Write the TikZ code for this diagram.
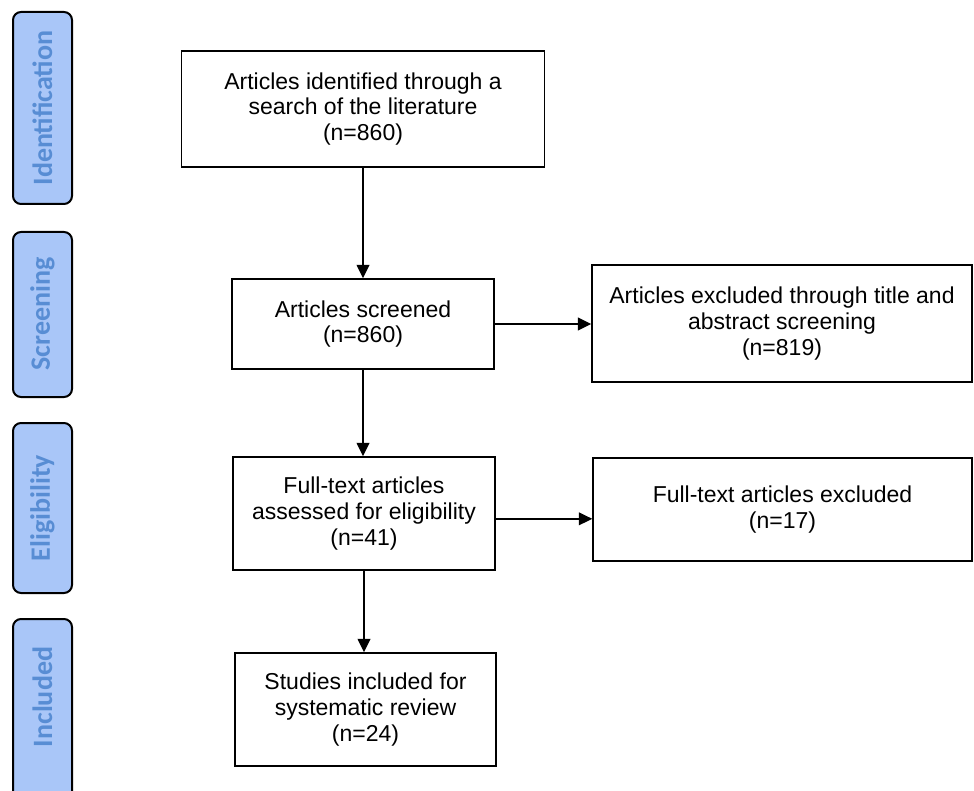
\documentclass[tikz,border=0pt]{standalone}
\usepackage{fontspec}
\setmainfont{Liberation Sans}
\newfontfamily\tabfont{Carlito}
\usetikzlibrary{arrows.meta}
\definecolor{tabfill}{RGB}{169,198,248}
\definecolor{tabtext}{RGB}{88,141,212}
\tikzstyle{cbox}   = [draw=black, line width=1.1pt, align=center, inner sep=0pt, font=\fontsize{17.25pt}{19.3pt}\selectfont]
\tikzstyle{ctab}   = [fill=tabfill, draw=black, line width=1.5pt, rounded corners=6pt]
\tikzstyle{clabel} = [rotate=90, text=tabtext, font=\tabfont\bfseries\fontsize{21pt}{24pt}\selectfont]
\tikzstyle{carrow} = [-{Triangle[length=10pt,width=9.5pt]}, line width=1.1pt]

\begin{document}
\begin{tikzpicture}[x=0.75pt, y=-0.75pt]
  \useasboundingbox (0,0) rectangle (974,791);
  % stage tabs on the left
  \foreach \ya/\yb/\ym/\stage in {12/204/108/Identification, 232/397/314/Screening, 423/593/508/Eligibility, 619/820/697/Included}{
    \draw[ctab] (13,\ya) rectangle (72,\yb);
    \node[clabel] (tab-\stage) at (42.5,\ym) {\stage};
  }
  \node[cbox, minimum width=272.25pt, minimum height=87pt]   (found)    at (363,109)     {Articles identified through a\\search of the literature\\(n=860)};
  \node[cbox, minimum width=196.5pt,  minimum height=67.5pt] (screened) at (363,324)     {Articles screened\\(n=860)};
  \node[cbox, minimum width=285pt,    minimum height=87.75pt](excl1)    at (782,323.5)   {Articles excluded through title and\\abstract screening\\(n=819)};
  \node[cbox, minimum width=196.5pt,  minimum height=84.75pt](fulltext) at (364,513.5)   {Full-text articles\\assessed for eligibility\\(n=41)};
  \node[cbox, minimum width=284.25pt, minimum height=77.25pt](excl2)    at (782.5,509.5) {Full-text articles excluded\\(n=17)};
  \node[cbox, minimum width=195.75pt, minimum height=84.75pt](included) at (365.5,709.5) {Studies included for\\systematic review\\(n=24)};
  % connectors
  \draw[carrow] (found.south) -- (found.south |- screened.north);
  \draw[carrow] (screened.south) -- (screened.south |- fulltext.north);
  \draw[carrow] (fulltext.south) -- (fulltext.south |- included.north);
  \draw[carrow] (screened.east) -- (screened.east -| excl1.west);
  \draw[carrow] ([yshift=-4pt]fulltext.east) -- ([yshift=-4pt]fulltext.east -| excl2.west);
\end{tikzpicture}
\end{document}
